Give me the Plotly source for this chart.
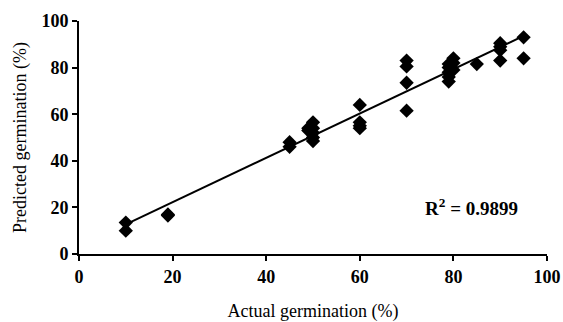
import numpy as np
import plotly.graph_objects as go

actual = [10, 10, 19, 19, 45, 45, 49, 49, 50, 50, 50, 50, 50,
          60, 60, 60, 60, 70, 70, 70, 70, 79, 79, 79, 79, 79,
          80, 80, 80, 85, 90, 90, 90, 90, 95, 95]
predicted = [13.5, 10, 17, 16.5, 48, 46, 54, 53, 56.5, 54, 52, 50, 48.5,
             64, 56.5, 55, 54, 83, 80.5, 73.5, 61.5, 74, 76, 78, 80, 81.5,
             84, 82, 79, 81.5, 90.5, 89, 87.5, 83, 93, 84]
tick_vals = [0, 20, 40, 60, 80, 100]
r2_label = "R<sup>2</sup> = 0.9899"

slope, intercept = np.polyfit(actual, predicted, 1)
line_x = [min(actual), max(actual)]
line_y = [slope * v + intercept for v in line_x]

fig = go.Figure()
fig.add_trace(go.Scatter(x=actual, y=predicted, mode="markers",
                         marker=dict(symbol="diamond", size=11, color="black"),
                         showlegend=False))
fig.add_trace(go.Scatter(x=line_x, y=line_y, mode="lines",
                         line=dict(color="black", width=2), showlegend=False))

font_serif = "Liberation Serif, Times New Roman, serif"
axis_common = dict(range=[0, 100], tickvals=tick_vals, showgrid=False, zeroline=False,
                   showline=True, linecolor="black", linewidth=2, automargin=False,
                   ticks="outside", ticklen=5, tickwidth=2, tickcolor="black",
                   tickfont=dict(family=font_serif, size=18, color="black", weight="bold"),
                   title_font=dict(family=font_serif, size=18, color="black"))

fig.update_xaxes(title_text="Actual germination (%)", title_standoff=20, **axis_common)
fig.update_yaxes(title_text="Predicted germination (%)", title_standoff=10, **axis_common)

fig.add_annotation(x=0.942, y=0.2, xref="paper", yref="paper", text=r2_label,
                   showarrow=False, xanchor="right", yanchor="middle",
                   font=dict(family=font_serif, size=19, color="black", weight="bold"))

fig.update_layout(width=563, height=322, margin=dict(l=79, r=16, t=21, b=68),
                  plot_bgcolor="white", paper_bgcolor="white")
fig.write_html("out.html", config={"displayModeBar": False},
               post_script="document.body.style.margin='0';document.body.style.overflow='hidden';")
